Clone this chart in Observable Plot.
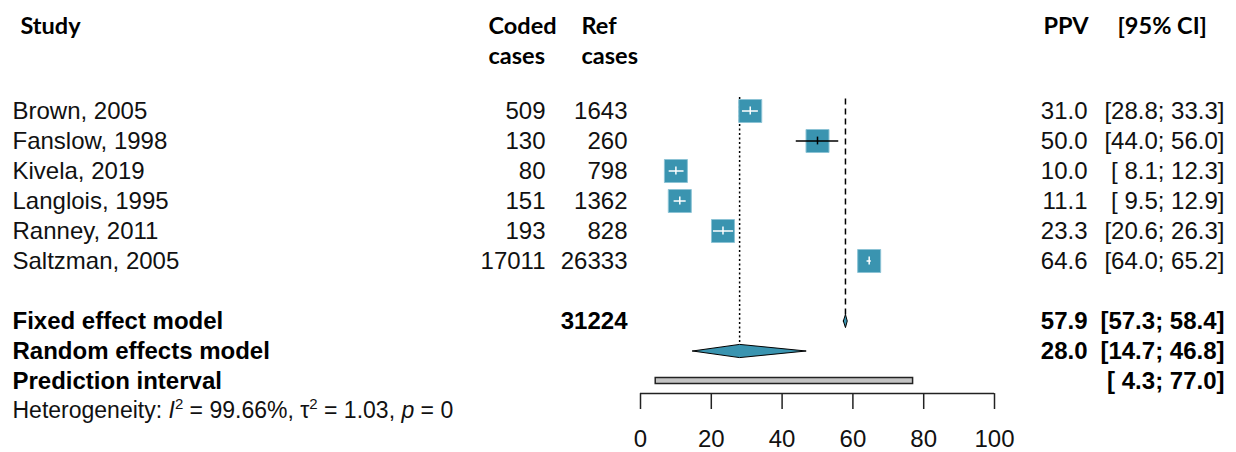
<!DOCTYPE html>
<html><head><meta charset="utf-8">
<script src="https://cdn.jsdelivr.net/npm/d3@7"></script>
<script src="https://cdn.jsdelivr.net/npm/@observablehq/plot@0.6"></script>
<style>
body{margin:0;background:#fff;}
svg text{white-space:pre;}
</style></head><body><div id="chart"></div>
<script>
// ---- data ----
const studies = ["Brown, 2005","Fanslow, 1998","Kivela, 2019","Langlois, 1995","Ranney, 2011","Saltzman, 2005"];
const codedCases = [509, 130, 80, 151, 193, 17011];
const refCases = [1643, 260, 798, 1362, 828, 26333];
const ppv = [31.0, 50.0, 10.0, 11.1, 23.3, 64.6];
const ciLow = [28.8, 44.0, 8.1, 9.5, 20.6, 64.0];
const ciHigh = [33.3, 56.0, 12.3, 12.9, 26.3, 65.2];
const summaryLabels = ["Fixed effect model", "Random effects model", "Prediction interval"];
const summaryEst = [57.9, 28.0, null];
const summaryLow = [57.3, 14.7, 4.3];
const summaryHigh = [58.4, 46.8, 77.0];
const totalCoded = 31224;
const hetI2 = "99.66%", hetTau2 = "1.03", hetP = "0";
const xTicks = [0, 20, 40, 60, 80, 100];
const headerTop = ["Study", "Coded", "Ref", "PPV", "[95% CI]"];
const headerBottom = ["", "cases", "cases", "", ""];

// ---- layout / style ----
const W = 1236, H = 452;
const xRange = [640, 994];
const pxPerUnit = (xRange[1] - xRange[0]) / (xTicks[xTicks.length-1] - xTicks[0]);
const sq = 23;
const teal = "#3a94b0";
const bodyFont = "Liberation Sans, Arial, sans-serif";
const headFont = "Lato, Calibri, sans-serif";
const fmt1 = d3.format(".1f");
const pad = v => fmt1(v).padStart(4, " ");
const ciText = (lo, hi) => `[${pad(lo)}; ${pad(hi)}]`;

const studyData = studies.map((s, i) => ({
  study: s, coded: codedCases[i], ref: refCases[i], est: ppv[i], lo: ciLow[i], hi: ciHigh[i],
  row: i + 1,
  inside: (ciHigh[i] - ciLow[i]) * pxPerUnit <= sq
}));
const summaryData = summaryLabels.map((s, i) => ({
  label: s, est: summaryEst[i], lo: summaryLow[i], hi: summaryHigh[i], row: 8 + i
}));
const diamonds = summaryData.filter(d => d.est != null).flatMap(d => {
  const h = 0.22;
  return [[d.lo, d.row], [d.est, d.row - h], [d.hi, d.row], [d.est, d.row + h], [d.lo, d.row]]
    .map(([x, y]) => ({x, y, label: d.label}));
});
const pred = summaryData.filter(d => d.est == null);
const headerX = [20, 488, 581, 1043, 1117];
const headers = headerTop.map((t, i) => ({top: t, bottom: headerBottom[i], dx: headerX[i]}));

const axisRow = 10.42, tickEnd = 10.95, labelRow = 11.93;

const textCol = (data, opts) => Plot.text(data, {
  y: "row", frameAnchor: "left", fontFamily: bodyFont, fontSize: 24, fill: "#111", ...opts
});

const marks = [
  // reference lines
  Plot.ruleX([summaryData[1]], {x: "est", y1: () => 0.55, y2: d => d.row - 0.22, stroke: "black", strokeWidth: 1.5, strokeDasharray: "2,2.5"}),
  Plot.ruleX([summaryData[0]], {x: "est", y1: () => 0.6, y2: d => d.row - 0.2, stroke: "black", strokeWidth: 1.5, strokeDasharray: "6,4"}),
  // study squares
  Plot.dot(studyData, {x: "est", y: "row", symbol: "square", r: sq / Math.sqrt(Math.PI), fill: teal, stroke: "#8cc3d5", strokeWidth: 1}),
  // CIs
  Plot.ruleY(studyData.filter(d => d.inside), {y: "row", x1: "lo", x2: "hi", stroke: "white", strokeWidth: 1.5}),
  Plot.ruleX(studyData.filter(d => d.inside), {x: "est", y1: d => d.row - 0.13, y2: d => d.row + 0.13, stroke: "white", strokeWidth: 1.5}),
  Plot.ruleY(studyData.filter(d => !d.inside), {y: "row", x1: "lo", x2: "hi", stroke: "black", strokeWidth: 1.5}),
  Plot.ruleX(studyData.filter(d => !d.inside), {x: "est", y1: d => d.row - 0.13, y2: d => d.row + 0.13, stroke: "black", strokeWidth: 1.5}),
  // diamonds
  Plot.line(diamonds, {x: "x", y: "y", z: "label", fill: teal, stroke: "black", strokeWidth: 1, curve: "linear"}),
  // prediction interval
  Plot.rect(pred, {x1: "lo", x2: "hi", y1: d => d.row - 0.1, y2: d => d.row + 0.1, fill: "#c4c4c4", stroke: "#222", strokeWidth: 1.5}),
  // axis
  Plot.ruleY([0], {y: () => axisRow, x1: () => xTicks[0], x2: () => xTicks[xTicks.length-1], stroke: "#222", strokeWidth: 1.5}),
  Plot.ruleX(xTicks, {x: d => d, y1: () => axisRow, y2: () => tickEnd, stroke: "#222", strokeWidth: 1.5}),
  Plot.text(xTicks, {x: d => d, y: () => labelRow, text: d => String(d), fontFamily: bodyFont, fontSize: 24, fill: "#111"}),
  // left table
  textCol(studyData, {text: "study", dx: 12, textAnchor: "start"}),
  textCol(studyData, {text: d => String(d.coded), dx: 545, textAnchor: "end"}),
  textCol(studyData, {text: d => String(d.ref), dx: 627, textAnchor: "end"}),
  textCol(studyData, {text: d => fmt1(d.est), dx: 1087, textAnchor: "end"}),
  textCol(studyData, {text: d => ciText(d.lo, d.hi), dx: 1224, textAnchor: "end"}),
  // summary rows
  textCol(summaryData, {text: "label", dx: 12, textAnchor: "start", fontWeight: "bold", fill: "black"}),
  textCol([summaryData[0]], {text: () => String(totalCoded), dx: 627, textAnchor: "end", fontWeight: "bold", fill: "black"}),
  textCol(summaryData.filter(d => d.est != null), {text: d => fmt1(d.est), dx: 1087, textAnchor: "end", fontWeight: "bold", fill: "black"}),
  textCol(summaryData, {text: d => ciText(d.lo, d.hi), dx: 1224, textAnchor: "end", fontWeight: "bold", fill: "black"}),
  // heterogeneity
  textCol([{row: 11}], {text: () => `Heterogeneity: I2 = ${hetI2}, τ2 = ${hetTau2}, p = ${hetP}`, dx: 12, textAnchor: "start", fontSize: 23})
];

// headers: one mark per column (per-column horizontal offset)
headers.forEach(h => {
  marks.push(Plot.text([h], {y: () => -1.583, text: "top", frameAnchor: "left", dx: h.dx, textAnchor: "start", lineAnchor: "bottom", fontFamily: headFont, fontWeight: "bold", fontSize: 23.5, fill: "black"}));
  if (h.bottom) marks.push(Plot.text([h], {y: () => -0.583, text: "bottom", frameAnchor: "left", dx: h.dx, textAnchor: "start", lineAnchor: "bottom", fontFamily: headFont, fontWeight: "bold", fontSize: 23.5, fill: "black"}));
});

const chart = Plot.plot({
  width: W, height: H, margin: 0,
  x: {domain: [xTicks[0], xTicks[xTicks.length-1]], range: xRange, axis: null},
  y: {domain: [0, 12], range: [80.5, 440.5], axis: null},
  style: {background: "white", overflow: "visible"},
  marks
});
document.getElementById("chart").appendChild(chart);

// superscripts / italics in heterogeneity line
chart.querySelectorAll("text").forEach(t => {
  if (t.textContent.startsWith("Heterogeneity")) {
    t.innerHTML = `Heterogeneity: <tspan font-style="italic">I</tspan><tspan dy="-9" font-size="15">2</tspan><tspan dy="9"> = ${hetI2}, τ</tspan><tspan dy="-9" font-size="15">2</tspan><tspan dy="9"> = ${hetTau2}, </tspan><tspan font-style="italic">p</tspan> = ${hetP}`;
  }
});
</script></body></html>
